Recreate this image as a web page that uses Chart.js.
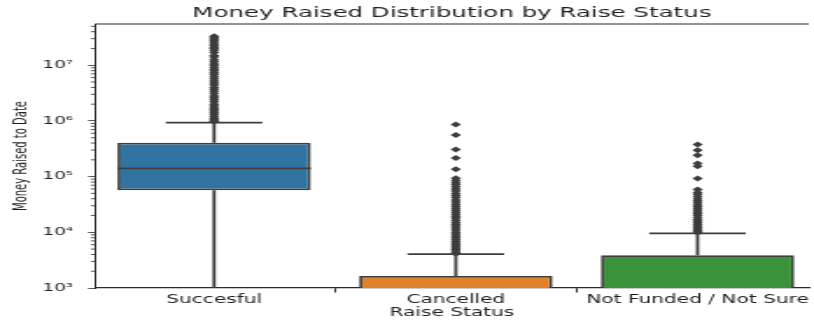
<!DOCTYPE html>
<html>
<head>
<meta charset="utf-8">
<script src="https://cdn.jsdelivr.net/npm/chart.js@4.4.1/dist/chart.umd.min.js"></script>
<style>
  html, body { margin: 0; padding: 0; background: #ffffff; overflow: hidden; }
  /* the figure is drawn narrow and widened horizontally */
  #stage { width: 465px; height: 320px; transform: scaleX(1.7505); transform-origin: 0 0; }
</style>
</head>
<body>
<div id="stage"><canvas id="chart" width="465" height="320"></canvas></div>
<script>
// Box statistics per raise status (money raised, USD)
const categories   = ['Succesful', 'Cancelled', 'Not Funded / Not Sure'];
const whiskerLow   = [1, 1, 1];
const q1           = [56800, 1, 1];
const median       = [141000, 1, 1];
const q3           = [407000, 1640, 3870];
const whiskerHigh  = [930000, 4070, 9600];

// Fliers above the upper whisker
const outliersSuccesful = [
  33000000, 31000000, 29500000, 28000000, 26000000, 24000000, 22500000, 21000000,
  20000000, 18500000, 17000000, 15000000, 14000000, 12500000, 11500000, 10500000,
  10000000, 9200000, 8500000, 8000000, 7300000, 6800000, 6200000, 5700000,
  5200000, 4800000, 4400000, 4000000, 3700000, 3400000, 3100000, 2800000,
  2600000, 2400000, 2200000, 2000000, 1850000, 1700000, 1600000, 1500000,
  1400000, 1300000, 1200000, 1120000, 1050000, 1000000, 980000
];
const outliersCancelled = [
  860000, 560000, 306000, 216000, 136000,
  93000, 85000, 78000, 72000, 66000, 60000, 55000, 50000, 46000, 42000,
  38000, 35000, 32000, 29500, 27000, 25000, 23000, 21000, 19500, 18000,
  16500, 15000, 14000, 13000, 12000, 11000, 10000, 9300, 8600, 8000,
  7400, 6900, 6400, 6000, 5600, 5200, 4900, 4600, 4300, 4100
];
const outliersNotFunded = [
  376000, 297000, 242000, 172000, 153000, 92500, 58700,
  52000, 48000, 44000, 40000, 37000, 34000, 31000, 29000, 27000, 25000,
  23000, 21500, 20000, 18500, 17000, 16000, 15000, 14000, 13000, 12200,
  11500, 10800, 10200, 9900
];
const yTicks = [1e3, 1e4, 1e5, 1e6, 1e7];

const BOX_COLORS = ['#3274a1', '#e1812c', '#3a923a'];
const LINE_COLOR = '#3d3d3d';
const SPINE_COLOR = '#2b2b2b';
const TEXT_COLOR = '#1f1f1f';
const BOX_WIDTH = 0.8;
const CAP_WIDTH = 0.4;
const FONT = 'DejaVu Sans';

const SUP = {'0':'⁰','1':'¹','2':'²','3':'³','4':'⁴','5':'⁵','6':'⁶','7':'⁷','8':'⁸','9':'⁹','-':'⁻'};
const powerLabel = v => '10' + String(Math.round(Math.log10(v))).split('').map(c => SUP[c]).join('');

const idx = categories.map((_, i) => i);
const gap = i => ({x: i, y: null});

const boxData = idx.map(i => ({x: i, y: [q1[i], q3[i]]}));
const whiskerData = idx.flatMap(i => [
  {x: i, y: q3[i]}, {x: i, y: whiskerHigh[i]}, gap(i),
  {x: i, y: q1[i]}, {x: i, y: whiskerLow[i]}, gap(i),
  {x: i - CAP_WIDTH / 2, y: whiskerHigh[i]}, {x: i + CAP_WIDTH / 2, y: whiskerHigh[i]}, gap(i),
  {x: i - CAP_WIDTH / 2, y: whiskerLow[i]}, {x: i + CAP_WIDTH / 2, y: whiskerLow[i]}, gap(i)
]);
const medianData = idx.flatMap(i => [
  {x: i - BOX_WIDTH / 2, y: median[i]}, {x: i + BOX_WIDTH / 2, y: median[i]}, gap(i)
]);
const flierSets = [outliersSuccesful, outliersCancelled, outliersNotFunded];

const lineStyle = {
  type: 'line', borderColor: LINE_COLOR, borderWidth: 1.8, borderCapStyle: 'butt',
  pointRadius: 0, pointHoverRadius: 0, tension: 0, spanGaps: false, fill: false
};

// Top spine and minor log ticks on the value axis
const axisExtras = {
  id: 'axisExtras',
  beforeDatasetsDraw(chart) {
    const {ctx, chartArea, scales: {y}} = chart;
    ctx.save();
    ctx.strokeStyle = SPINE_COLOR;
    ctx.lineWidth = 1.2;
    ctx.beginPath();
    ctx.moveTo(chartArea.left, chartArea.top);
    ctx.lineTo(chartArea.right, chartArea.top);
    ctx.stroke();
    ctx.lineWidth = 0.8;
    ctx.beginPath();
    const eMin = Math.floor(Math.log10(y.min)), eMax = Math.ceil(Math.log10(y.max));
    for (let e = eMin; e <= eMax; e++) {
      for (let m = 2; m <= 9; m++) {
        const v = m * Math.pow(10, e);
        if (v < y.min || v > y.max) continue;
        const py = y.getPixelForValue(v);
        ctx.moveTo(chartArea.left - 2.4, py);
        ctx.lineTo(chartArea.left, py);
      }
    }
    ctx.stroke();
    ctx.restore();
  }
};

new Chart(document.getElementById('chart'), {
  type: 'bar',
  data: {
    datasets: [
      Object.assign({label: 'whiskers', data: whiskerData, order: 4}, lineStyle),
      {
        type: 'bar', label: 'boxes', data: boxData, order: 3,
        backgroundColor: BOX_COLORS, borderColor: LINE_COLOR, borderWidth: 1.8,
        borderSkipped: false, barPercentage: BOX_WIDTH, categoryPercentage: 1.0
      },
      Object.assign({label: 'medians', data: medianData, order: 2}, lineStyle),
      ...flierSets.map((vals, i) => ({
        type: 'scatter', label: categories[i] + ' outliers', order: 1,
        data: vals.map(v => ({x: i, y: v})),
        pointStyle: 'rectRot', pointRadius: 3, pointHoverRadius: 3,
        backgroundColor: LINE_COLOR, borderColor: LINE_COLOR, borderWidth: 0, showLine: false
      }))
    ]
  },
  options: {
    responsive: false,
    animation: false,
    devicePixelRatio: 1,
    layout: {padding: 0},
    plugins: {
      legend: {display: false},
      tooltip: {enabled: false},
      title: {
        display: true, text: 'Money Raised Distribution by Raise Status', fullSize: false,
        color: TEXT_COLOR, font: {family: FONT, size: 14, weight: 'normal'},
        padding: {top: 4.5, bottom: 2.7}
      }
    },
    scales: {
      x: {
        type: 'linear', min: -0.4925, max: 2.46, bounds: 'data', offset: false,
        afterBuildTicks: s => { s.ticks = idx.map(i => ({value: i})); },
        afterFit: s => { s.height = 32; s.paddingLeft = 0; s.paddingRight = 0; },
        ticks: {
          autoSkip: false, maxRotation: 0, padding: 0.5, color: TEXT_COLOR,
          font: {family: FONT, size: 11.5}, callback: v => categories[v]
        },
        grid: {display: true, drawOnChartArea: false, drawTicks: true, tickLength: 4.5, tickWidth: 1, tickColor: SPINE_COLOR},
        border: {display: true, color: SPINE_COLOR, width: 1.2},
        title: {display: true, text: 'Raise Status', color: TEXT_COLOR, font: {family: FONT, size: 11.5}, padding: {top: 0, bottom: 0}}
      },
      y: {
        type: 'logarithmic', min: 1000, max: 5.5e7, bounds: 'data',
        afterBuildTicks: s => { s.ticks = yTicks.map(v => ({value: v, major: true})); },
        afterFit: s => { s.width = 54.3; s.paddingTop = 0; s.paddingBottom = 0; },
        ticks: {
          autoSkip: false, padding: 8.5, color: TEXT_COLOR,
          font: {family: FONT, size: 10.5}, callback: v => powerLabel(v)
        },
        grid: {display: true, drawOnChartArea: false, drawTicks: true, tickLength: 4, tickWidth: 0.8, tickColor: SPINE_COLOR},
        border: {display: true, color: SPINE_COLOR, width: 1},
        title: {display: true, text: 'Money Raised to Date', color: TEXT_COLOR, font: {family: FONT, size: 10}, padding: {top: 6.6, bottom: 0}}
      }
    }
  },
  plugins: [axisExtras]
});
</script>
</body>
</html>
